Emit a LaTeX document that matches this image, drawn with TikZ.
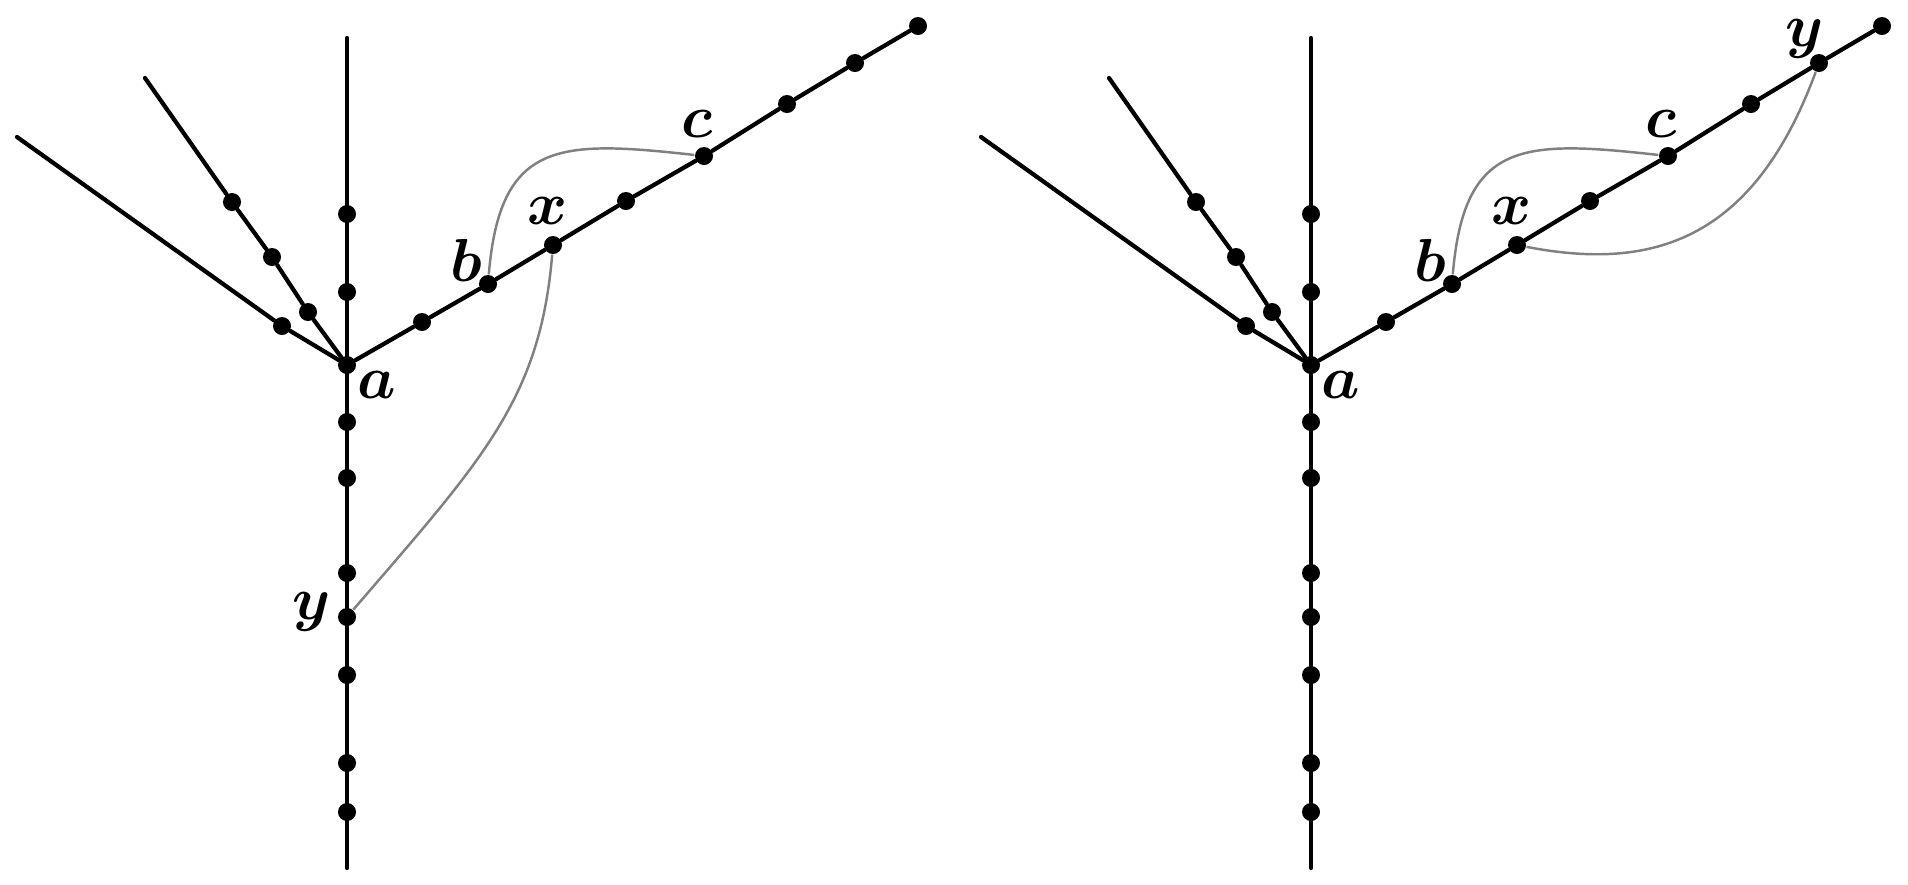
\documentclass[tikz,border=0pt]{standalone}
\usetikzlibrary{positioning, calc}
\tikzset{
  dot/.style={circle, fill=black, inner sep=0pt, minimum size=0.18cm},
  edge/.style={line width=1.2pt, black, line cap=round},
  route/.style={gray, line width=0.7pt},
  lbl/.style={inner sep=0pt, font={\fontsize{17}{20}\selectfont\boldmath}}
}

\begin{document}
\begin{tikzpicture}[x=0.01cm, y=-0.01cm]
    \useasboundingbox (0,0) rectangle (1908,884);

    % the same tree twice, left (L) and right (R)
    \foreach \t/\ax/\ay in {L/347/365, R/1311/365}{
    \begin{scope}[shift={(\ax,\ay)}]
        \node (\t-a) [dot] at (0,0) {};

        % stem
        \coordinate (\t-top) at (0,-327);
        \coordinate (\t-bot) at (0,503);
        \draw [edge] (\t-top) -- (\t-bot);
        \foreach \i/\yy in {1/-151, 2/-73}
            \node (\t-u\i) [dot] at (0,\yy) {};
        \foreach \i/\yy in {1/57, 2/113, 3/208, 4/252, 5/310, 6/398, 7/447}
            \node (\t-d\i) [dot] at (0,\yy) {};

        % two branches on the left
        \node (\t-l1) [dot] at (-65,-39) {};
        \coordinate (\t-lend) at (-330,-228);
        \draw [edge] (\t-a) -- (\t-l1) -- (\t-lend);

        \node (\t-m1) [dot] at (-39,-53) {};
        \node (\t-m2) [dot] at (-75,-108) {};
        \node (\t-m3) [dot] at (-115,-163) {};
        \coordinate (\t-mend) at (-202,-287);
        \draw [edge] (\t-a) -- (\t-m1) -- (\t-m2) -- (\t-m3) -- (\t-mend);

        % long branch on the right
        \foreach \i/\p in {1/{75,-43}, 2/{141,-81}, 3/{206,-120}, 4/{279,-164},
                           5/{357,-209}, 6/{440,-261}, 7/{508,-302}, 8/{571,-339}}
            \node (\t-r\i) [dot] at (\p) {};
        \draw [edge] (\t-a) -- (\t-r1) -- (\t-r2) -- (\t-r3) -- (\t-r4)
                     -- (\t-r5) -- (\t-r6) -- (\t-r7) -- (\t-r8);

        % labels
        \node (\t-alab) [lbl] at ($(\t-a)+(30,20)$) {$a$};
        \node (\t-blab) [lbl] at ($(\t-r2)+(-22,-24)$) {$b$};
        \node (\t-xlab) [lbl] at ($(\t-r3)+(-5,-34)$) {$x$};
        \node (\t-clab) [lbl] at ($(\t-r5)+(-7,-32)$) {$c$};
    \end{scope}
    }

    % left: y on the stem
    \node (L-ylab) [lbl] at ($(L-d4)+(-35,-5)$) {$y$};
    \draw [route] (L-r2) .. controls +(12,-144) and +(-145,-16) .. (L-r5);
    \draw [route] (L-r3) .. controls +(-13,155) and +(135,-157) .. (L-d4);

    % right: y on the long branch
    \node (R-ylab) [lbl] at ($(R-r7)+(-14,-24)$) {$y$};
    \draw [route] (R-r2) .. controls +(12,-144) and +(-145,-16) .. (R-r5);
    \draw [route] (R-r3) .. controls +(134,26) and +(-66,179) .. (R-r7);

\end{tikzpicture}
\end{document}
